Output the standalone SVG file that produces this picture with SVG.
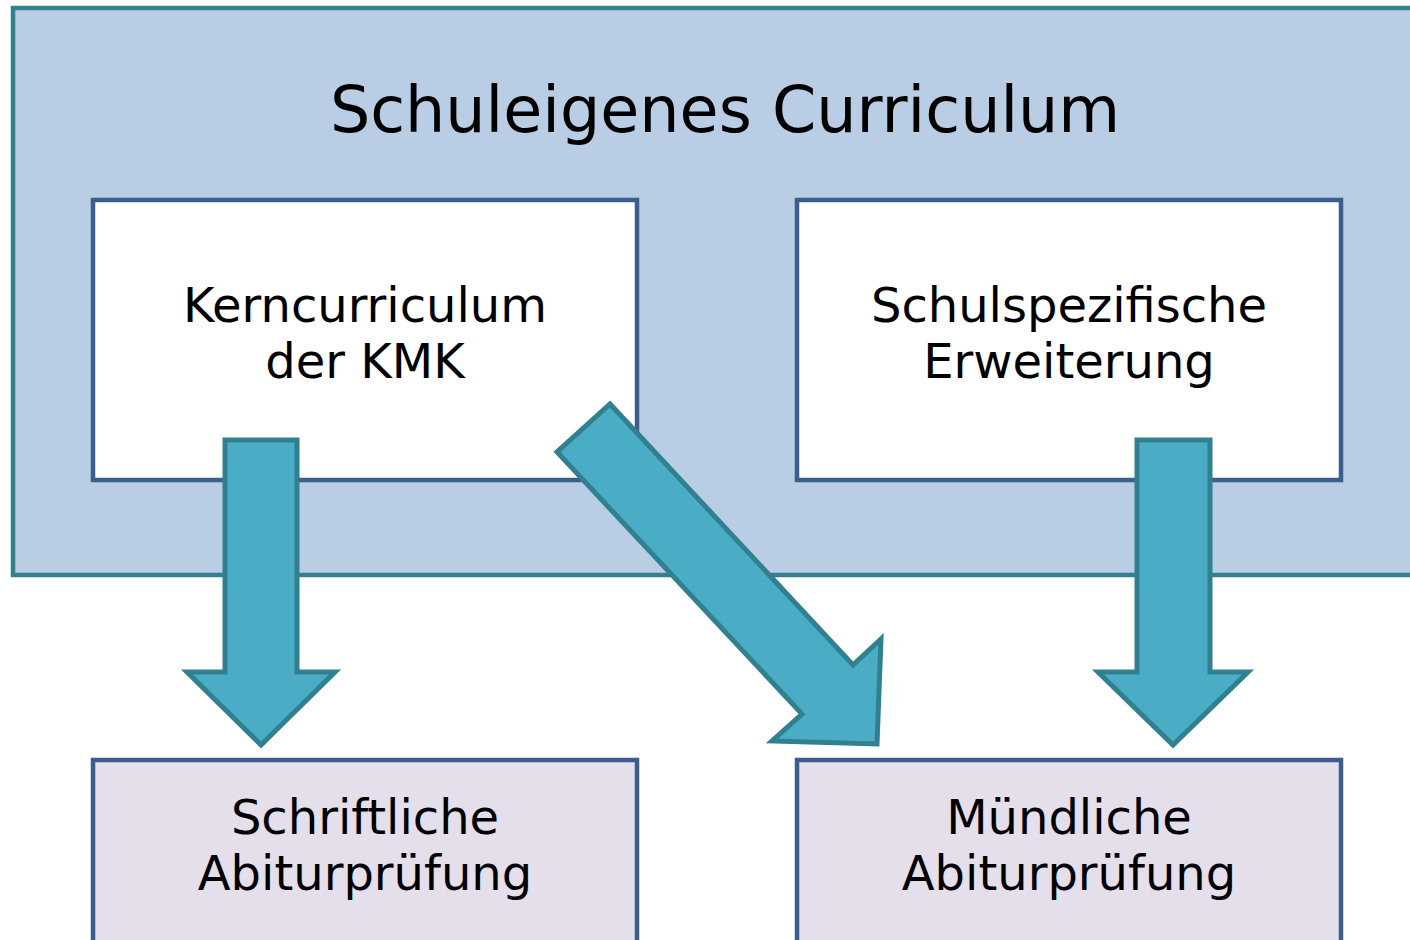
<svg xmlns="http://www.w3.org/2000/svg" width="1410" height="940" viewBox="0 0 1410 940">
<style>
.container{fill:#B9CDE4;stroke:#357F8E;stroke-width:4.5}
.box{fill:#FFFFFF;stroke:#3B5E8C;stroke-width:4.5}
.exam{fill:#E5DFEC;stroke:#3B5E8C;stroke-width:4.5}
.arrow{fill:#4BACC6;stroke:#31808F;stroke-width:5;stroke-linejoin:miter}
text{font-family:"DejaVu Sans",Verdana,sans-serif;fill:#000;text-anchor:middle}
.title{font-size:63.5px}
.lbl{font-size:48px}
</style>
<rect width="1410" height="940" fill="#FFFFFF"/>
<g id="schuleigenes-curriculum">
<rect class="container" x="13" y="8" width="1420" height="567"/>
<text class="title" x="725" y="132">Schuleigenes Curriculum</text>
</g>
<g id="kerncurriculum">
<rect class="box" x="93" y="200" width="544" height="280"/>
<text class="lbl" x="365" y="322">Kerncurriculum</text>
<text class="lbl" x="365" y="378">der KMK</text>
</g>
<g id="schulspezifische">
<rect class="box" x="797" y="200" width="544" height="280"/>
<text class="lbl" x="1069" y="322">Schulspezifische</text>
<text class="lbl" x="1069" y="378">Erweiterung</text>
</g>
<g id="schriftliche">
<rect class="exam" x="93" y="760" width="544" height="200"/>
<text class="lbl" x="365" y="834">Schriftliche</text>
<text class="lbl" x="365" y="890">Abiturprüfung</text>
</g>
<g id="muendliche">
<rect class="exam" x="797" y="760" width="544" height="200"/>
<text class="lbl" x="1069" y="834">Mündliche</text>
<text class="lbl" x="1069" y="890">Abiturprüfung</text>
</g>
<g id="connectors">
<polygon class="arrow" points="225,440 297,440 297,672 335,672 261,745 187,672 225,672"/>
<polygon class="arrow" points="1137,440 1210,440 1210,672 1248,672 1173,745 1098,672 1137,672"/>
<polygon class="arrow" points="610,404 853,665 881,639 877,744 772,741 802,714 557,452"/>
</g>
</svg>
